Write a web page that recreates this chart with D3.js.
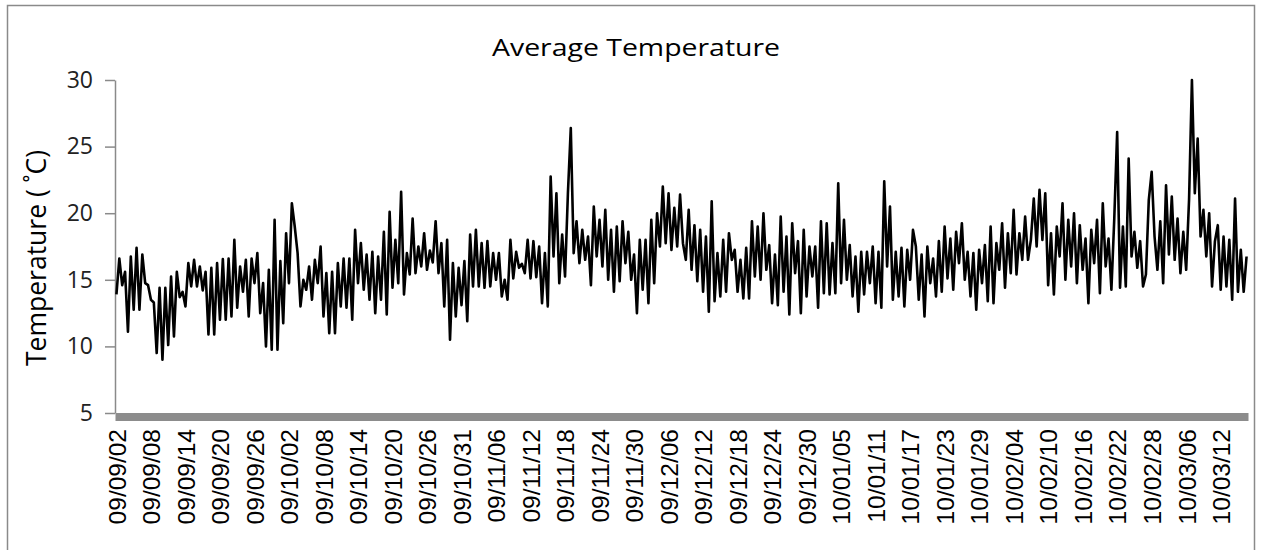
<!DOCTYPE html>
<html>
<head>
<meta charset="utf-8">
<script src="https://cdn.jsdelivr.net/npm/d3@7"></script>
<style>
  body { margin: 0; background: #fff; }
</style>
</head>
<body>
<div id="container"></div>
<script>
//tick labels along the category axis (one every 12 readings)
var tickLabels = ["09/09/02","09/09/08","09/09/14","09/09/20","09/09/26","09/10/02","09/10/08",
  "09/10/14","09/10/20","09/10/26","09/10/31","09/11/06","09/11/12","09/11/18","09/11/24",
  "09/11/30","09/12/06","09/12/12","09/12/18","09/12/24","09/12/30","10/01/05","10/01/11",
  "10/01/17","10/01/23","10/01/29","10/02/04","10/02/10","10/02/16","10/02/22","10/02/28",
  "10/03/06","10/03/12"];
var yTicks = [5, 10, 15, 20, 25, 30];

//temperature readings (two per day)
var temps_0902 = [13.9,16.6,14.6,15.6,11.1,16.75,12.75,17.4,12.75,16.9,14.75,14.6,13.5,13.3,9.5,14.4,9.0,14.4,10.1,15.25,
  10.75,15.6,13.7,14.1,13.0,16.25,14.5,16.5,14.5,16.0,14.2,15.6,10.9,15.9,10.9,16.25,12.0,16.55,12.0,16.6];
var temps_0922 = [12.25,18.0,12.9,16.0,14.1,16.5,12.25,16.6,14.75,17.0,12.5,14.75,10.0,15.75,9.75,19.5,9.75,16.4,11.75,18.5,
  14.75,20.75,19.0,17.0,13.0,15.0,14.25,16.0,13.5,16.5,14.75,17.5,12.25,15.5,11.0,15.6,11.0,16.25,13.0,16.6];
var temps_1012 = [12.9,16.6,12.0,18.75,14.75,17.75,14.25,16.9,13.5,17.1,12.5,16.75,13.5,18.6,12.4,20.1,14.4,18.0,14.75,21.6,
  13.9,17.0,15.4,19.6,15.5,17.5,16.0,18.5,15.75,17.2,16.3,19.4,15.5,17.75,13.0,18.0,10.5,16.25];
var temps_1031 = [12.25,15.9,13.1,16.4,11.9,18.4,14.5,18.75,14.5,17.75,14.4,17.9,14.5,17.0,15.0,17.0,13.75,15.0,13.5,18.0,
  15.1,17.1,15.9,16.2,15.5,18.0,15.1,17.9,15.2,17.5,13.25,17.0,13.0,22.75,16.75,21.5,14.75,18.4,15.25,21.5];
var temps_1120 = [26.4,17.0,19.4,16.25,18.75,16.5,18.25,14.6,20.5,16.75,19.5,16.0,20.25,15.0,18.75,14.1,19.0,14.9,19.4,16.25,
  18.6,15.0,16.9,12.5,18.0,14.25,18.0,13.25,19.5,14.75,20.0,17.5,22.0,17.75,21.5,17.25,20.4,17.5,21.4,17.75];
var temps_1210 = [16.5,20.25,15.75,19.1,14.9,18.75,14.1,18.25,12.6,20.9,13.4,17.0,13.75,18.0,14.1,18.5,16.5,17.25,14.1,16.5,
  13.6,17.4,13.6,19.4,15.25,19.0,15.0,20.0,15.75,17.6,13.25,16.9,13.1,19.75,14.1,18.25,12.4,19.25,15.5,17.9];
var temps_1230 = [12.5,18.75,13.75,17.5,15.25,17.5,12.9,19.4,14.0,19.25,13.9,17.75,14.0,22.25,14.75,19.5,15.0,17.6,13.75,16.75,
  12.6,17.1,13.9,17.1,14.75,17.5,13.25,17.1,12.9,22.4,16.0,20.5,13.5,17.1,13.75,17.4,13.0,17.25,15.0,18.75];
var temps_0119 = [17.5,13.5,16.9,12.25,17.5,14.75,16.6,13.75,17.9,14.1,19.0,15.1,18.1,14.25,18.6,16.25,19.25,15.0,17.1,13.75,
  17.0,12.75,17.25,14.75,17.6,13.4,19.0,13.25,17.75,15.75,19.25,14.4,18.5,15.5,20.25,15.4,18.5,16.5,19.75,16.5];
var temps_0208 = [18.0,21.1,17.5,21.75,18.0,21.5,14.6,18.5,13.9,19.0,16.75,20.75,15.0,19.5,16.0,20.0,14.75,19.1,15.75,18.1,
  13.25,18.75,16.25,19.5,14.0,20.75,16.0,18.1,14.25,19.6,26.1,14.4,19.0,14.5,24.1,16.75,18.6,15.9,17.9,14.5];
var temps_0228 = [15.4,21.0,23.1,18.25,15.75,19.4,14.75,22.1,16.9,21.25,16.5,19.6,15.5,18.6,15.75,21.0,30.0,21.5,25.6,18.25,
  20.25,16.75,20.0,14.5,17.9,19.1,14.25,18.25,14.5,18.0,13.5,21.1,14.1,17.25,14.1,16.75];

var temps = [].concat(temps_0902, temps_0922, temps_1012, temps_1031, temps_1120,
  temps_1210, temps_1230, temps_0119, temps_0208, temps_0228);

var labelEvery = 12;

//chart dimensions + margins
var totalWidth = 1261;
var totalHeight = 550;
var margin = {top: 80, right: 13, bottom: 137, left: 115};
var width = totalWidth - margin.left - margin.right;
var height = totalHeight - margin.top - margin.bottom;

var svg = d3.select("#container")
  .append("svg")
  .attr("width", totalWidth)
  .attr("height", totalHeight);

//outer frame
svg.append("rect")
  .attr("x", 7.5).attr("y", 5.5)
  .attr("width", 1247).attr("height", 560)
  .attr("fill", "#fff")
  .attr("stroke", "#8a8a8a")
  .attr("stroke-width", 1.5);

var g = svg.append("g")
  .attr("transform", "translate(" + margin.left + "," + margin.top + ")");

//scales
var x = d3.scalePoint()
  .domain(d3.range(temps.length))
  .range([0, width])
  .padding(0.5);

var y = d3.scaleLinear()
  .domain([5, 30])
  .range([height, 0]);

//y axis
var yAxis = g.append("g")
  .call(d3.axisLeft(y).tickValues(yTicks).tickSize(10).tickSizeOuter(0).tickPadding(12));
yAxis.select(".domain").attr("stroke", "#8a8a8a").attr("stroke-width", 1.5);
yAxis.selectAll(".tick line").attr("stroke", "#8a8a8a").attr("stroke-width", 1.5);
yAxis.selectAll(".tick text")
  .style("font-family", "'Open Sans', sans-serif")
  .style("font-size", "23px")
  .attr("fill", "#222");

//line
var line = d3.line()
  .x(function(d, i) { return x(i); })
  .y(function(d) { return y(d); });

g.append("path")
  .datum(temps)
  .attr("fill", "none")
  .attr("stroke", "#000")
  .attr("stroke-width", 2.6)
  .attr("stroke-linejoin", "round")
  .attr("d", line);

//x axis (thick grey bar) with rotated date labels
var tickIdx = tickLabels.map(function(d, i) { return i * labelEvery; });
var xAxis = g.append("g")
  .attr("transform", "translate(0," + (height + 3.5) + ")")
  .call(d3.axisBottom(x)
    .tickValues(tickIdx)
    .tickSize(0)
    .tickFormat(function(d) { return tickLabels[d / labelEvery]; }));
xAxis.select(".domain").attr("stroke", "#8c8c8c").attr("stroke-width", 8);
xAxis.selectAll(".tick text")
  .attr("transform", "rotate(-90)")
  .attr("x", -12.5)
  .attr("y", 0)
  .attr("dy", "0.36em")
  .style("text-anchor", "end")
  .style("font-family", "'Liberation Sans', Arial, sans-serif")
  .style("font-size", "24.5px")
  .attr("fill", "#000");

//title
svg.append("text")
  .attr("x", 636)
  .attr("y", 56)
  .attr("text-anchor", "middle")
  .attr("textLength", 288)
  .attr("lengthAdjust", "spacingAndGlyphs")
  .style("font-family", "'Open Sans', sans-serif")
  .style("font-size", "23px")
  .attr("fill", "#000")
  .text("Average Temperature");

//y axis label
svg.append("text")
  .attr("transform", "translate(46,258) rotate(-90)")
  .attr("text-anchor", "middle")
  .style("font-family", "'Open Sans', sans-serif")
  .style("font-size", "26.5px")
  .attr("fill", "#000")
  .text("Temperature ( \u02DAC)");
</script>
</body>
</html>
